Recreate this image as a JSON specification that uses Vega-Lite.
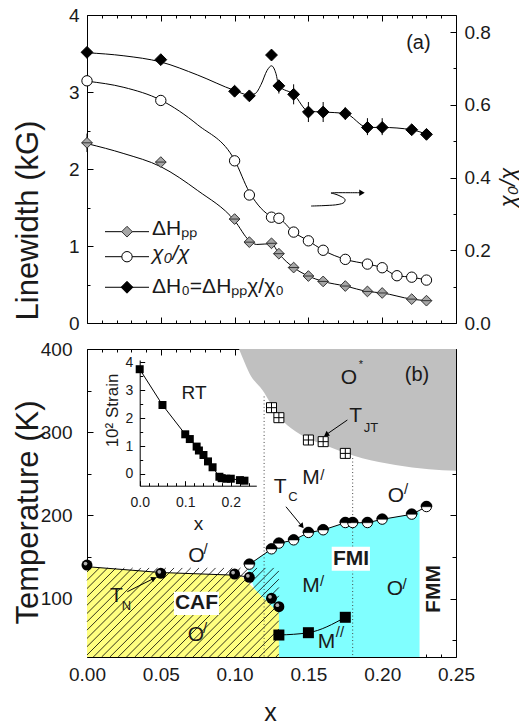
{
"$schema": "https://vega.github.io/schema/vega-lite/v6.json",
"background": "white",
"padding": {"left": 11, "top": 5, "right": 2, "bottom": 2},
"config": {
 "font": "Liberation Sans",
 "view": {"stroke": "black", "strokeWidth": 1},
 "axis": {"grid": false, "domainColor": "black", "domainWidth": 1, "tickColor": "black", "tickWidth": 1, "tickOpacity": 1, "labelFont": "Liberation Sans", "labelFontSize": 19, "labelColor": "#1a1a1a", "titleFont": "Liberation Sans", "titleFontWeight": "normal", "titleColor": "#1a1a1a", "labelFlush": false, "labelOverlap": false, "labelBound": false},
 "text": {"font": "Liberation Sans", "color": "#1a1a1a"}
},
"datasets": {
 "dHpp": [{"x":0,"kG":2.34},{"x":0.05,"kG":2.09},{"x":0.10,"kG":1.35},{"x":0.11,"kG":1.05},{"x":0.125,"kG":1.035},{"x":0.13,"kG":0.90},{"x":0.14,"kG":0.72},{"x":0.15,"kG":0.61},{"x":0.16,"kG":0.54},{"x":0.175,"kG":0.48},{"x":0.19,"kG":0.41},{"x":0.2,"kG":0.39},{"x":0.22,"kG":0.31},{"x":0.23,"kG":0.29}],
 "dH0": [{"x":0,"kG":3.515},{"x":0.05,"kG":3.42},{"x":0.10,"kG":3.01},{"x":0.11,"kG":2.95},{"x":0.125,"kG":3.48},{"x":0.13,"kG":3.08},{"x":0.14,"kG":2.97},{"x":0.15,"kG":2.74},{"x":0.16,"kG":2.74},{"x":0.175,"kG":2.72},{"x":0.19,"kG":2.54},{"x":0.2,"kG":2.54},{"x":0.22,"kG":2.51},{"x":0.23,"kG":2.45}],
 "err": [{"x":0,"lo":2.22,"hi":2.46},{"x":0.13,"lo":2.98,"hi":3.16},{"x":0.14,"lo":2.84,"hi":3.1},{"x":0.15,"lo":2.61,"hi":2.87},{"x":0.16,"lo":2.61,"hi":2.87},{"x":0.175,"lo":2.64,"hi":2.8},{"x":0.19,"lo":2.44,"hi":2.66},{"x":0.2,"lo":2.44,"hi":2.66},{"x":0.22,"lo":2.46,"hi":2.56}],
 "chi": [{"x":0,"chi":0.666},{"x":0.05,"chi":0.612},{"x":0.10,"chi":0.446},{"x":0.11,"chi":0.352},{"x":0.125,"chi":0.291},{"x":0.13,"chi":0.288},{"x":0.14,"chi":0.25},{"x":0.15,"chi":0.226},{"x":0.16,"chi":0.2},{"x":0.175,"chi":0.175},{"x":0.19,"chi":0.162},{"x":0.2,"chi":0.152},{"x":0.21,"chi":0.13},{"x":0.22,"chi":0.126},{"x":0.23,"chi":0.118}],
 "fitkg": [
  {"s":"pp","x":0,"kG":2.33},{"s":"pp","x":0.025,"kG":2.2},{"s":"pp","x":0.05,"kG":2.03},{"s":"pp","x":0.075,"kG":1.72},{"s":"pp","x":0.10,"kG":1.33},{"s":"pp","x":0.11,"kG":1.07},{"s":"pp","x":0.115,"kG":1.02},{"s":"pp","x":0.125,"kG":1.03},{"s":"pp","x":0.13,"kG":0.9},{"s":"pp","x":0.14,"kG":0.72},{"s":"pp","x":0.15,"kG":0.61},{"s":"pp","x":0.16,"kG":0.54},{"s":"pp","x":0.175,"kG":0.48},{"s":"pp","x":0.19,"kG":0.41},{"s":"pp","x":0.2,"kG":0.39},{"s":"pp","x":0.22,"kG":0.31},{"s":"pp","x":0.23,"kG":0.29},
  {"s":"h0","x":0,"kG":3.51},{"s":"h0","x":0.025,"kG":3.47},{"s":"h0","x":0.05,"kG":3.39},{"s":"h0","x":0.075,"kG":3.22},{"s":"h0","x":0.10,"kG":3.02},{"s":"h0","x":0.11,"kG":2.96},{"s":"h0","x":0.114,"kG":2.98},{"s":"h0","x":0.118,"kG":3.1},{"s":"h0","x":0.122,"kG":3.28},{"s":"h0","x":0.125,"kG":3.34},{"s":"h0","x":0.128,"kG":3.24},{"s":"h0","x":0.13,"kG":3.08},{"s":"h0","x":0.14,"kG":2.97},{"s":"h0","x":0.15,"kG":2.75},{"s":"h0","x":0.16,"kG":2.74},{"s":"h0","x":0.175,"kG":2.72},{"s":"h0","x":0.19,"kG":2.54},{"s":"h0","x":0.2,"kG":2.54},{"s":"h0","x":0.22,"kG":2.51},{"s":"h0","x":0.23,"kG":2.45}],
 "fitchi": [{"x":0,"chi":0.665},{"x":0.025,"chi":0.648},{"x":0.05,"chi":0.613},{"x":0.075,"chi":0.545},{"x":0.10,"chi":0.448},{"x":0.11,"chi":0.36},{"x":0.118,"chi":0.315},{"x":0.125,"chi":0.293},{"x":0.13,"chi":0.288},{"x":0.14,"chi":0.25},{"x":0.15,"chi":0.226},{"x":0.16,"chi":0.2},{"x":0.175,"chi":0.175},{"x":0.19,"chi":0.162},{"x":0.2,"chi":0.152},{"x":0.21,"chi":0.13},{"x":0.22,"chi":0.126},{"x":0.23,"chi":0.118}],
 "squig": [{"i":1,"x":0.1518,"kG":1.519},{"i":2,"x":0.1619,"kG":1.526},{"i":3,"x":0.1701,"kG":1.539},{"i":4,"x":0.1741,"kG":1.565},{"i":5,"x":0.1748,"kG":1.604},{"i":6,"x":0.1721,"kG":1.643},{"i":7,"x":0.168,"kG":1.675},{"i":8,"x":0.1653,"kG":1.688},{"i":9,"x":0.1687,"kG":1.692},{"i":10,"x":0.1775,"kG":1.692},{"i":11,"x":0.185,"kG":1.692}],
 "gray": [{"x":0.103,"T":400},{"x":0.106,"T":387},{"x":0.11,"T":371},{"x":0.1188,"T":350.7},{"x":0.13,"T":319},{"x":0.1414,"T":301},{"x":0.152,"T":291},{"x":0.164,"T":282.6},{"x":0.1865,"T":268.7},{"x":0.209,"T":260.6},{"x":0.2317,"T":255.5},{"x":0.25,"T":253.8}],
 "cyan": [{"x":0.108,"top":139,"bot":139},{"x":0.11,"top":141.3,"bot":129},{"x":0.125,"top":159.7,"bot":54.8},{"x":0.13,"top":166.6,"bot":30},{"x":0.14,"top":170.5,"bot":30},{"x":0.15,"top":179.4,"bot":30},{"x":0.16,"top":182.6,"bot":30},{"x":0.175,"top":191.3,"bot":30},{"x":0.19,"top":191.3,"bot":30},{"x":0.2,"top":195.4,"bot":30},{"x":0.22,"top":201.4,"bot":30},{"x":0.2253,"top":205,"bot":30}],
 "yellow": [{"x":0,"T":138.5},{"x":0.05,"T":131.5},{"x":0.10,"T":128.3},{"x":0.105,"T":126.5},{"x":0.13,"T":82.5}],
 "tnline": [{"x":0,"T":138.5},{"x":0.05,"T":131.5},{"x":0.10,"T":128.3},{"x":0.11,"T":126}],
 "hatch": [
  {"x":0,"T":132.1,"x2":0.0028,"T2":137},{"x":0,"T":122.1,"x2":0.0084,"T2":137},{"x":0,"T":112.2,"x2":0.014,"T2":137},{"x":0,"T":102.2,"x2":0.0197,"T2":137},{"x":0,"T":92.2,"x2":0.0253,"T2":137},{"x":0,"T":82.3,"x2":0.0309,"T2":137},{"x":0,"T":72.3,"x2":0.0365,"T2":137},{"x":0,"T":62.3,"x2":0.0421,"T2":137},{"x":0,"T":52.3,"x2":0.0478,"T2":137},{"x":0,"T":42.4,"x2":0.0534,"T2":137},{"x":0,"T":32.4,"x2":0.059,"T2":137},
  {"x":0.0043,"T":30,"x2":0.0646,"T2":137},{"x":0.0099,"T":30,"x2":0.0703,"T2":137},{"x":0.0155,"T":30,"x2":0.0759,"T2":137},{"x":0.0211,"T":30,"x2":0.0815,"T2":137},{"x":0.0268,"T":30,"x2":0.0871,"T2":137},{"x":0.0324,"T":30,"x2":0.0928,"T2":137},{"x":0.038,"T":30,"x2":0.0984,"T2":137},{"x":0.0436,"T":30,"x2":0.104,"T2":137},{"x":0.0493,"T":30,"x2":0.1096,"T2":137},{"x":0.0549,"T":30,"x2":0.1152,"T2":137},{"x":0.0605,"T":30,"x2":0.1209,"T2":137},{"x":0.0661,"T":30,"x2":0.1265,"T2":137},
  {"x":0.0718,"T":30,"x2":0.13,"T2":133.4},{"x":0.0774,"T":30,"x2":0.13,"T2":123.5},{"x":0.083,"T":30,"x2":0.13,"T2":113.5},{"x":0.0886,"T":30,"x2":0.13,"T2":103.5},{"x":0.0942,"T":30,"x2":0.13,"T2":93.5},{"x":0.0999,"T":30,"x2":0.13,"T2":83.6},{"x":0.1055,"T":30,"x2":0.13,"T2":73.6},{"x":0.1111,"T":30,"x2":0.13,"T2":63.6},{"x":0.1167,"T":30,"x2":0.13,"T2":53.7},{"x":0.1224,"T":30,"x2":0.13,"T2":43.7},{"x":0.128,"T":30,"x2":0.13,"T2":33.7}],
 "dots": [{"x":0.12,"T":343},{"x":0.18,"T":269}],
 "tc": [{"x":0.11,"T":141.3},{"x":0.125,"T":159.7},{"x":0.13,"T":166.6},{"x":0.14,"T":170.5},{"x":0.15,"T":179.4},{"x":0.16,"T":182.6},{"x":0.175,"T":191.3},{"x":0.18,"T":191.3},{"x":0.19,"T":191.3},{"x":0.2,"T":195.4},{"x":0.22,"T":201.4},{"x":0.23,"T":210.5}],
 "tn": [{"x":0,"T":140.5},{"x":0.05,"T":130.5},{"x":0.10,"T":129.7},{"x":0.11,"T":125.7},{"x":0.125,"T":100.5},{"x":0.13,"T":90.4}],
 "jt": [{"x":0.125,"T":329.5},{"x":0.13,"T":317.5},{"x":0.15,"T":290.7},{"x":0.16,"T":288.7},{"x":0.175,"T":274.6}],
 "m2": [{"x":0.13,"T":56.4},{"x":0.15,"T":59.2},{"x":0.175,"T":77.7}],
 "strain": [{"x":0,"s":3.75},{"x":0.05,"s":2.47},{"x":0.10,"s":1.42},{"x":0.11,"s":1.25},{"x":0.125,"s":0.98},{"x":0.13,"s":0.84},{"x":0.14,"s":0.68},{"x":0.15,"s":0.45},{"x":0.16,"s":0.24},{"x":0.175,"s":-0.1},{"x":0.18,"s":-0.15},{"x":0.19,"s":-0.17},{"x":0.2,"s":-0.17},{"x":0.22,"s":-0.22},{"x":0.23,"s":-0.24}]
},
"spacing": 26,
"bounds": "flush",
"vconcat": [
 {
  "width": 369, "height": 308,
  "resolve": {"scale": {"y": "independent"}, "axis": {"x": "independent", "y": "independent"}},
  "layer": [
   {"layer": [
    {"data": {"name": "fitkg"}, "mark": {"type": "line", "interpolate": "monotone", "color": "black", "strokeWidth": 1},
     "encoding": {
      "x": {"field": "x", "type": "quantitative", "scale": {"domain": [0, 0.25], "nice": false},
            "axis": {"orient": "bottom", "offset": -6, "domain": false, "values": [0,0.05,0.1,0.15,0.2,0.25], "labels": false, "title": null, "tickSize": 6}},
      "y": {"field": "kG", "type": "quantitative", "scale": {"domain": [0, 4], "nice": false, "zero": false},
            "axis": {"orient": "left", "offset": -6, "domain": false, "values": [0,1,2,3,4], "format": "d", "tickSize": 6, "labelPadding": 8,
                     "title": "Linewidth (kG)", "titleFontSize": 31, "titleX": -56, "titleY": 205, "titleBaseline": "alphabetic", "titleAngle": -90, "titleAlign": "center"}},
      "detail": {"field": "s", "type": "nominal"}}},
    {"data": {"name": "err"}, "mark": {"type": "rule", "color": "black", "strokeWidth": 1},
     "encoding": {"x": {"field": "x", "type": "quantitative"}, "y": {"field": "lo", "type": "quantitative"}, "y2": {"field": "hi"}}},
    {"data": {"name": "dHpp"}, "mark": {"type": "point", "shape": "M0,-1L1,0L0,1L-1,0ZM-1,0H1", "filled": true, "fill": "#a6a6a6", "stroke": "#333333", "strokeWidth": 1, "size": 115, "opacity": 1},
     "encoding": {"x": {"field": "x", "type": "quantitative"}, "y": {"field": "kG", "type": "quantitative"}}},
    {"data": {"name": "dH0"}, "mark": {"type": "point", "shape": "diamond", "filled": true, "fill": "black", "stroke": "black", "strokeWidth": 1, "size": 140, "opacity": 1},
     "encoding": {"x": {"field": "x", "type": "quantitative"}, "y": {"field": "kG", "type": "quantitative"}}},
    {"data": {"values": [{}]}, "mark": {"type": "rule", "color": "black", "strokeWidth": 1},
     "encoding": {"x": {"datum": 0.0122, "type": "quantitative"}, "x2": {"datum": 0.042}, "y": {"datum": 1.186, "type": "quantitative"}}},
    {"data": {"values": [{}]}, "mark": {"type": "rule", "color": "black", "strokeWidth": 1},
     "encoding": {"x": {"datum": 0.0122, "type": "quantitative"}, "x2": {"datum": 0.042}, "y": {"datum": 0.861, "type": "quantitative"}}},
    {"data": {"values": [{}]}, "mark": {"type": "rule", "color": "black", "strokeWidth": 1},
     "encoding": {"x": {"datum": 0.0122, "type": "quantitative"}, "x2": {"datum": 0.042}, "y": {"datum": 0.464, "type": "quantitative"}}},
    {"data": {"values": [{}]}, "mark": {"type": "point", "shape": "diamond", "filled": true, "fill": "#a6a6a6", "stroke": "#333333", "strokeWidth": 1, "size": 115, "opacity": 1},
     "encoding": {"x": {"datum": 0.0271, "type": "quantitative"}, "y": {"datum": 1.186, "type": "quantitative"}}},
    {"data": {"values": [{}]}, "mark": {"type": "point", "shape": "circle", "filled": true, "fill": "white", "stroke": "black", "strokeWidth": 1, "size": 107, "opacity": 1},
     "encoding": {"x": {"datum": 0.0271, "type": "quantitative"}, "y": {"datum": 0.861, "type": "quantitative"}}},
    {"data": {"values": [{}]}, "mark": {"type": "point", "shape": "diamond", "filled": true, "fill": "black", "stroke": "black", "strokeWidth": 1, "size": 140, "opacity": 1},
     "encoding": {"x": {"datum": 0.0271, "type": "quantitative"}, "y": {"datum": 0.464, "type": "quantitative"}}},
    {"data": {"values": [{}]}, "mark": {"type": "text", "text": "ΔHₚₚ", "fontSize": 21, "align": "left", "baseline": "alphabetic"},
     "encoding": {"x": {"datum": 0.044, "type": "quantitative"}, "y": {"datum": 1.143, "type": "quantitative"}}},
    {"data": {"values": [{}]}, "mark": {"type": "text", "text": "χ₀/χ", "fontSize": 21, "fontStyle": "italic", "align": "left", "baseline": "alphabetic"},
     "encoding": {"x": {"datum": 0.044, "type": "quantitative"}, "y": {"datum": 0.818, "type": "quantitative"}}},
    {"data": {"values": [{}]}, "mark": {"type": "text", "text": "ΔH₀=ΔHₚₚχ/χ₀", "fontSize": 21, "align": "left", "baseline": "alphabetic"},
     "encoding": {"x": {"datum": 0.044, "type": "quantitative"}, "y": {"datum": 0.39, "type": "quantitative"}}},
    {"data": {"values": [{}]}, "mark": {"type": "text", "text": "(a)", "fontSize": 20, "align": "center", "baseline": "middle"},
     "encoding": {"x": {"datum": 0.2245, "type": "quantitative"}, "y": {"datum": 3.633, "type": "quantitative"}}},
    {"data": {"name": "squig"}, "mark": {"type": "line", "interpolate": "catmull-rom", "color": "black", "strokeWidth": 1},
     "encoding": {"x": {"field": "x", "type": "quantitative"}, "y": {"field": "kG", "type": "quantitative"}, "order": {"field": "i", "type": "quantitative"}}},
    {"data": {"values": [{}]}, "mark": {"type": "point", "shape": "triangle-right", "filled": true, "color": "black", "size": 40, "opacity": 1},
     "encoding": {"x": {"datum": 0.1863, "type": "quantitative"}, "y": {"datum": 1.692, "type": "quantitative"}}}
   ]},
   {"layer": [
    {"data": {"name": "fitchi"}, "mark": {"type": "line", "interpolate": "monotone", "color": "black", "strokeWidth": 1},
     "encoding": {
      "x": {"field": "x", "type": "quantitative", "scale": {"domain": [0, 0.25], "nice": false},
            "axis": {"orient": "top", "offset": -6, "domain": false, "values": [0,0.05,0.1,0.15,0.2,0.25], "labels": false, "title": null, "tickSize": 6}},
      "y": {"field": "chi", "type": "quantitative", "scale": {"domain": [0, 0.847], "nice": false, "zero": false},
            "axis": {"orient": "right", "offset": -6, "domain": false, "values": [0,0.2,0.4,0.6,0.8], "format": ".1f", "tickSize": 6, "labelPadding": 8,
                     "title": "χ₀/χ", "titleFontSize": 22, "titleFontStyle": "italic", "titleX": 64, "titleY": 172, "titleBaseline": "alphabetic", "titleAngle": -90, "titleAlign": "center"}}}},
    {"data": {"name": "chi"}, "mark": {"type": "point", "shape": "circle", "filled": true, "fill": "white", "stroke": "black", "strokeWidth": 1, "size": 107, "opacity": 1},
     "encoding": {"x": {"field": "x", "type": "quantitative"}, "y": {"field": "chi", "type": "quantitative"}}}
   ]},
   {"layer": [
    {"data": {"name": "dHpp"}, "mark": {"type": "point", "opacity": 0},
     "encoding": {
      "x": {"field": "x", "type": "quantitative", "scale": {"domain": [0, 0.25], "nice": false},
            "axis": {"orient": "bottom", "offset": -3, "domain": false, "values": [0.01,0.02,0.03,0.04,0.06,0.07,0.08,0.09,0.11,0.12,0.13,0.14,0.16,0.17,0.18,0.19,0.21,0.22,0.23,0.24], "labels": false, "title": null, "tickSize": 3}},
      "y": {"field": "kG", "type": "quantitative", "scale": {"domain": [0, 4], "nice": false, "zero": false},
            "axis": {"orient": "left", "offset": -3, "domain": false, "values": [0.5,1.5,2.5,3.5], "labels": false, "title": null, "tickSize": 3}}}}
   ]},
   {"layer": [
    {"data": {"name": "chi"}, "mark": {"type": "point", "opacity": 0},
     "encoding": {
      "x": {"field": "x", "type": "quantitative", "scale": {"domain": [0, 0.25], "nice": false},
            "axis": {"orient": "top", "offset": -3, "domain": false, "values": [0.01,0.02,0.03,0.04,0.06,0.07,0.08,0.09,0.11,0.12,0.13,0.14,0.16,0.17,0.18,0.19,0.21,0.22,0.23,0.24], "labels": false, "title": null, "tickSize": 3}},
      "y": {"field": "chi", "type": "quantitative", "scale": {"domain": [0, 0.847], "nice": false, "zero": false},
            "axis": {"orient": "right", "offset": -3, "domain": false, "values": [0.1,0.3,0.5,0.7], "labels": false, "title": null, "tickSize": 3}}}}
   ]}
  ]
 },
 {
  "width": 369, "height": 308,
  "resolve": {"scale": {"x": "independent", "y": "independent"}, "axis": {"x": "independent", "y": "independent"}},
  "layer": [
   {"layer": [
    {"data": {"name": "gray"}, "mark": {"type": "area", "color": "#c0c0c0", "interpolate": "monotone", "opacity": 1},
     "encoding": {
      "x": {"field": "x", "type": "quantitative", "scale": {"domain": [0, 0.25], "nice": false},
            "axis": {"orient": "bottom", "offset": -6, "domain": false, "values": [0,0.05,0.1,0.15,0.2,0.25], "format": ".2f", "tickSize": 6, "labelPadding": 8,
                     "title": "x", "titleFontSize": 25, "titleX": 183, "titleY": 69, "titleBaseline": "alphabetic", "titleAlign": "center"}},
      "y": {"field": "T", "type": "quantitative", "scale": {"domain": [30, 400], "nice": false, "zero": false},
            "axis": {"orient": "left", "offset": -6, "domain": false, "values": [100,200,300,400], "format": "d", "tickSize": 6, "labelPadding": 15,
                     "title": "Temperature (K)", "titleFontSize": 31, "titleX": -56, "titleY": 163, "titleBaseline": "alphabetic", "titleAngle": -90, "titleAlign": "center"}},
      "y2": {"datum": 400}}},
    {"data": {"name": "cyan"}, "mark": {"type": "area", "color": "#80ffff", "opacity": 1},
     "encoding": {"x": {"field": "x", "type": "quantitative"}, "y": {"field": "top", "type": "quantitative"}, "y2": {"field": "bot"}}},
    {"data": {"name": "yellow"}, "mark": {"type": "area", "color": "#ffff80", "opacity": 1},
     "encoding": {"x": {"field": "x", "type": "quantitative"}, "y": {"field": "T", "type": "quantitative"}, "y2": {"datum": 30}}},
    {"data": {"name": "hatch"}, "mark": {"type": "rule", "color": "black", "strokeWidth": 0.8},
     "encoding": {"x": {"field": "x", "type": "quantitative"}, "y": {"field": "T", "type": "quantitative"}, "x2": {"field": "x2"}, "y2": {"field": "T2"}}},
    {"data": {"name": "tnline"}, "mark": {"type": "line", "color": "black", "strokeWidth": 1},
     "encoding": {"x": {"field": "x", "type": "quantitative"}, "y": {"field": "T", "type": "quantitative"}}},
    {"data": {"name": "dots"}, "mark": {"type": "rule", "color": "#444444", "strokeWidth": 1, "strokeDash": [1, 2.5]},
     "encoding": {"x": {"field": "x", "type": "quantitative"}, "y": {"field": "T", "type": "quantitative"}, "y2": {"datum": 30}}},
    {"data": {"name": "tc"}, "mark": {"type": "line", "color": "black", "strokeWidth": 1},
     "encoding": {"x": {"field": "x", "type": "quantitative"}, "y": {"field": "T", "type": "quantitative"}}},
    {"data": {"name": "m2"}, "mark": {"type": "line", "color": "black", "strokeWidth": 1, "interpolate": "monotone"},
     "encoding": {"x": {"field": "x", "type": "quantitative"}, "y": {"field": "T", "type": "quantitative"}}},
    {"data": {"name": "tn"}, "mark": {"type": "point", "shape": "circle", "filled": true, "color": "black", "size": 120, "opacity": 1},
     "encoding": {"x": {"field": "x", "type": "quantitative"}, "y": {"field": "T", "type": "quantitative"}}},
    {"data": {"name": "tn"}, "mark": {"type": "point", "shape": "circle", "filled": true, "color": "#b0b0b0", "size": 14, "opacity": 1, "xOffset": -1.5, "yOffset": -1.5},
     "encoding": {"x": {"field": "x", "type": "quantitative"}, "y": {"field": "T", "type": "quantitative"}}},
    {"data": {"name": "tc"}, "mark": {"type": "point", "shape": "circle", "filled": true, "fill": "white", "stroke": "black", "strokeWidth": 1, "size": 100, "opacity": 1},
     "encoding": {"x": {"field": "x", "type": "quantitative"}, "y": {"field": "T", "type": "quantitative"}}},
    {"data": {"name": "tc"}, "mark": {"type": "point", "shape": "M-1,0A1,1 0 0 1 1,0Z", "filled": true, "fill": "black", "stroke": "black", "strokeWidth": 0.5, "size": 127, "opacity": 1},
     "encoding": {"x": {"field": "x", "type": "quantitative"}, "y": {"field": "T", "type": "quantitative"}}},
    {"data": {"name": "jt"}, "mark": {"type": "point", "shape": "M-1,-1H1V1H-1ZM0,-1V1M-1,0H1", "filled": true, "fill": "white", "stroke": "black", "strokeWidth": 1, "size": 100, "opacity": 1},
     "encoding": {"x": {"field": "x", "type": "quantitative"}, "y": {"field": "T", "type": "quantitative"}}},
    {"data": {"name": "m2"}, "mark": {"type": "point", "shape": "square", "filled": true, "color": "black", "size": 121, "opacity": 1},
     "encoding": {"x": {"field": "x", "type": "quantitative"}, "y": {"field": "T", "type": "quantitative"}}},
    {"data": {"values": [{}]}, "mark": {"type": "rule", "color": "black", "strokeWidth": 1},
     "encoding": {"x": {"datum": 0.1764, "type": "quantitative"}, "y": {"datum": 314.7, "type": "quantitative"}, "x2": {"datum": 0.1617}, "y2": {"datum": 296.7}}},
    {"data": {"values": [{}]}, "mark": {"type": "point", "shape": "triangle", "filled": true, "color": "black", "size": 35, "angle": 236, "opacity": 1},
     "encoding": {"x": {"datum": 0.1625, "type": "quantitative"}, "y": {"datum": 297.6, "type": "quantitative"}}},
    {"data": {"values": [{}]}, "mark": {"type": "rule", "color": "black", "strokeWidth": 1},
     "encoding": {"x": {"datum": 0.1348, "type": "quantitative"}, "y": {"datum": 210.5, "type": "quantitative"}, "x2": {"datum": 0.1457}, "y2": {"datum": 187}}},
    {"data": {"values": [{}]}, "mark": {"type": "point", "shape": "triangle", "filled": true, "color": "black", "size": 35, "angle": 141, "opacity": 1},
     "encoding": {"x": {"datum": 0.1453, "type": "quantitative"}, "y": {"datum": 188, "type": "quantitative"}}},
    {"data": {"values": [{}]}, "mark": {"type": "rule", "color": "black", "strokeWidth": 1},
     "encoding": {"x": {"datum": 0.0273, "type": "quantitative"}, "y": {"datum": 108.4, "type": "quantitative"}, "x2": {"datum": 0.0454}, "y2": {"datum": 124.5}}},
    {"data": {"values": [{}]}, "mark": {"type": "point", "shape": "triangle", "filled": true, "color": "black", "size": 35, "angle": 63, "opacity": 1},
     "encoding": {"x": {"datum": 0.0448, "type": "quantitative"}, "y": {"datum": 123.8, "type": "quantitative"}}},
    {"data": {"values": [{}]}, "mark": {"type": "rect", "color": "white", "opacity": 1},
     "encoding": {"x": {"datum": 0.0589, "type": "quantitative"}, "x2": {"datum": 0.0894}, "y": {"datum": 80.4, "type": "quantitative"}, "y2": {"datum": 108.4}}},
    {"data": {"values": [{}]}, "mark": {"type": "rect", "color": "white", "opacity": 1},
     "encoding": {"x": {"datum": 0.1658, "type": "quantitative"}, "x2": {"datum": 0.1917}, "y": {"datum": 133.7, "type": "quantitative"}, "y2": {"datum": 162.5}}},
    {"data": {"values": [{}]}, "mark": {"type": "text", "text": "CAF", "fontSize": 21, "fontWeight": "bold", "align": "center", "baseline": "middle"},
     "encoding": {"x": {"datum": 0.0742, "type": "quantitative"}, "y": {"datum": 94.9, "type": "quantitative"}}},
    {"data": {"values": [{}]}, "mark": {"type": "text", "text": "FMI", "fontSize": 21, "fontWeight": "bold", "align": "center", "baseline": "middle"},
     "encoding": {"x": {"datum": 0.1789, "type": "quantitative"}, "y": {"datum": 148.1, "type": "quantitative"}}},
    {"data": {"values": [{}]}, "mark": {"type": "text", "text": "FMM", "fontSize": 21, "fontWeight": "bold", "align": "center", "baseline": "middle", "angle": 270},
     "encoding": {"x": {"datum": 0.2351, "type": "quantitative"}, "y": {"datum": 111.7, "type": "quantitative"}}},
    {"data": {"values": [{}]}, "mark": {"type": "text", "text": "(b)", "fontSize": 20, "align": "center", "baseline": "middle"},
     "encoding": {"x": {"datum": 0.2236, "type": "quantitative"}, "y": {"datum": 368.8, "type": "quantitative"}}},
    {"data": {"values": [{}]}, "mark": {"type": "text", "text": "O", "fontSize": 21, "align": "center", "baseline": "middle"},
     "encoding": {"x": {"datum": 0.1775, "type": "quantitative"}, "y": {"datum": 365.2, "type": "quantitative"}}},
    {"data": {"values": [{}]}, "mark": {"type": "text", "text": "*", "fontSize": 11, "align": "center", "baseline": "middle"},
     "encoding": {"x": {"datum": 0.1856, "type": "quantitative"}, "y": {"datum": 380.8, "type": "quantitative"}}},
    {"data": {"values": [{}]}, "mark": {"type": "text", "text": "T", "fontSize": 21, "align": "center", "baseline": "middle"},
     "encoding": {"x": {"datum": 0.182, "type": "quantitative"}, "y": {"datum": 320.1, "type": "quantitative"}}},
    {"data": {"values": [{}]}, "mark": {"type": "text", "text": "JT", "fontSize": 13, "align": "center", "baseline": "middle"},
     "encoding": {"x": {"datum": 0.1924, "type": "quantitative"}, "y": {"datum": 305.1, "type": "quantitative"}}},
    {"data": {"values": [{}]}, "mark": {"type": "text", "text": "M", "fontSize": 21, "align": "center", "baseline": "middle"},
     "encoding": {"x": {"datum": 0.1518, "type": "quantitative"}, "y": {"datum": 245.0, "type": "quantitative"}}},
    {"data": {"values": [{}]}, "mark": {"type": "text", "text": "/", "fontSize": 15, "align": "center", "baseline": "middle"},
     "encoding": {"x": {"datum": 0.1595, "type": "quantitative"}, "y": {"datum": 249.0, "type": "quantitative"}}},
    {"data": {"values": [{}]}, "mark": {"type": "text", "text": "T", "fontSize": 21, "align": "center", "baseline": "middle"},
     "encoding": {"x": {"datum": 0.1308, "type": "quantitative"}, "y": {"datum": 234.2, "type": "quantitative"}}},
    {"data": {"values": [{}]}, "mark": {"type": "text", "text": "C", "fontSize": 13, "align": "center", "baseline": "middle"},
     "encoding": {"x": {"datum": 0.1396, "type": "quantitative"}, "y": {"datum": 222.2, "type": "quantitative"}}},
    {"data": {"values": [{}]}, "mark": {"type": "text", "text": "O", "fontSize": 21, "align": "center", "baseline": "middle"},
     "encoding": {"x": {"datum": 0.2093, "type": "quantitative"}, "y": {"datum": 223.4, "type": "quantitative"}}},
    {"data": {"values": [{}]}, "mark": {"type": "text", "text": "/", "fontSize": 15, "align": "center", "baseline": "middle"},
     "encoding": {"x": {"datum": 0.2161, "type": "quantitative"}, "y": {"datum": 231.8, "type": "quantitative"}}},
    {"data": {"values": [{}]}, "mark": {"type": "text", "text": "O", "fontSize": 21, "align": "center", "baseline": "middle"},
     "encoding": {"x": {"datum": 0.0742, "type": "quantitative"}, "y": {"datum": 151.3, "type": "quantitative"}}},
    {"data": {"values": [{}]}, "mark": {"type": "text", "text": "/", "fontSize": 15, "align": "center", "baseline": "middle"},
     "encoding": {"x": {"datum": 0.0803, "type": "quantitative"}, "y": {"datum": 159.7, "type": "quantitative"}}},
    {"data": {"values": [{}]}, "mark": {"type": "text", "text": "T", "fontSize": 21, "align": "center", "baseline": "middle"},
     "encoding": {"x": {"datum": 0.02, "type": "quantitative"}, "y": {"datum": 103.3, "type": "quantitative"}}},
    {"data": {"values": [{}]}, "mark": {"type": "text", "text": "N", "fontSize": 13, "align": "center", "baseline": "middle"},
     "encoding": {"x": {"datum": 0.0268, "type": "quantitative"}, "y": {"datum": 91.3, "type": "quantitative"}}},
    {"data": {"values": [{}]}, "mark": {"type": "text", "text": "O", "fontSize": 21, "align": "center", "baseline": "middle"},
     "encoding": {"x": {"datum": 0.0738, "type": "quantitative"}, "y": {"datum": 56.4, "type": "quantitative"}}},
    {"data": {"values": [{}]}, "mark": {"type": "text", "text": "/", "fontSize": 15, "align": "center", "baseline": "middle"},
     "encoding": {"x": {"datum": 0.08, "type": "quantitative"}, "y": {"datum": 64.8, "type": "quantitative"}}},
    {"data": {"values": [{}]}, "mark": {"type": "text", "text": "M", "fontSize": 21, "align": "center", "baseline": "middle"},
     "encoding": {"x": {"datum": 0.1518, "type": "quantitative"}, "y": {"datum": 115.3, "type": "quantitative"}}},
    {"data": {"values": [{}]}, "mark": {"type": "text", "text": "/", "fontSize": 15, "align": "center", "baseline": "middle"},
     "encoding": {"x": {"datum": 0.1592, "type": "quantitative"}, "y": {"datum": 121.3, "type": "quantitative"}}},
    {"data": {"values": [{}]}, "mark": {"type": "text", "text": "O", "fontSize": 21, "align": "center", "baseline": "middle"},
     "encoding": {"x": {"datum": 0.2087, "type": "quantitative"}, "y": {"datum": 111.7, "type": "quantitative"}}},
    {"data": {"values": [{}]}, "mark": {"type": "text", "text": "/", "fontSize": 15, "align": "center", "baseline": "middle"},
     "encoding": {"x": {"datum": 0.2151, "type": "quantitative"}, "y": {"datum": 117.7, "type": "quantitative"}}},
    {"data": {"values": [{}]}, "mark": {"type": "text", "text": "M", "fontSize": 21, "align": "center", "baseline": "middle"},
     "encoding": {"x": {"datum": 0.1623, "type": "quantitative"}, "y": {"datum": 48.6, "type": "quantitative"}}},
    {"data": {"values": [{}]}, "mark": {"type": "text", "text": "//", "fontSize": 15, "align": "center", "baseline": "middle"},
     "encoding": {"x": {"datum": 0.1714, "type": "quantitative"}, "y": {"datum": 60.0, "type": "quantitative"}}}
   ]},
   {"layer": [
    {"data": {"name": "tn"}, "mark": {"type": "point", "opacity": 0},
     "encoding": {
      "x": {"field": "x", "type": "quantitative", "scale": {"domain": [0, 0.25], "nice": false},
            "axis": {"orient": "top", "offset": -6, "domain": false, "values": [0,0.05,0.1,0.15,0.2,0.25], "labels": false, "title": null, "tickSize": 6}},
      "y": {"field": "T", "type": "quantitative", "scale": {"domain": [30, 400], "nice": false, "zero": false},
            "axis": {"orient": "right", "offset": -6, "domain": false, "values": [100,200,300,400], "labels": false, "title": null, "tickSize": 6}}}}
   ]},
   {"layer": [
    {"data": {"name": "tn"}, "mark": {"type": "point", "opacity": 0},
     "encoding": {
      "x": {"field": "x", "type": "quantitative", "scale": {"domain": [0, 0.25], "nice": false},
            "axis": {"orient": "bottom", "offset": -3, "domain": false, "values": [0.01,0.02,0.03,0.04,0.06,0.07,0.08,0.09,0.11,0.12,0.13,0.14,0.16,0.17,0.18,0.19,0.21,0.22,0.23,0.24], "labels": false, "title": null, "tickSize": 3}},
      "y": {"field": "T", "type": "quantitative", "scale": {"domain": [30, 400], "nice": false, "zero": false},
            "axis": {"orient": "left", "offset": -4, "domain": false, "values": [50,150,250,350], "labels": false, "title": null, "tickSize": 4}}}}
   ]},
   {"layer": [
    {"data": {"name": "tn"}, "mark": {"type": "point", "opacity": 0},
     "encoding": {
      "x": {"field": "x", "type": "quantitative", "scale": {"domain": [0, 0.25], "nice": false},
            "axis": {"orient": "top", "offset": -3, "domain": false, "values": [0.01,0.02,0.03,0.04,0.06,0.07,0.08,0.09,0.11,0.12,0.13,0.14,0.16,0.17,0.18,0.19,0.21,0.22,0.23,0.24], "labels": false, "title": null, "tickSize": 3}},
      "y": {"field": "T", "type": "quantitative", "scale": {"domain": [30, 400], "nice": false, "zero": false},
            "axis": {"orient": "right", "offset": -4, "domain": false, "values": [50,150,250,350], "labels": false, "title": null, "tickSize": 4}}}}
   ]},
   {"layer": [
    {"data": {"name": "strain"}, "mark": {"type": "point", "opacity": 0},
     "encoding": {
      "x": {"field": "x", "type": "quantitative", "scale": {"domain": [0, 0.256], "nice": false, "range": [52.7, 169.3]},
            "axis": {"orient": "bottom", "offset": -171.3, "ticks": false, "labels": false, "title": null, "domain": true}},
      "y": {"field": "s", "type": "quantitative", "scale": {"domain": [-0.42, 4.08], "nice": false, "zero": false, "range": [136.7, 11]},
            "axis": {"orient": "left", "offset": -52.7, "ticks": false, "labels": false, "title": null, "domain": true}}}}
   ]},
   {"layer": [
    {"data": {"name": "strain"}, "mark": {"type": "point", "opacity": 0},
     "encoding": {
      "x": {"field": "x", "type": "quantitative", "scale": {"domain": [0, 0.256], "nice": false, "range": [52.7, 169.3]},
            "axis": {"orient": "bottom", "offset": -174.3, "domain": false, "values": [0.02,0.04,0.06,0.08,0.12,0.14,0.16,0.18,0.22,0.24], "labels": false, "title": null, "tickSize": 3}},
      "y": {"field": "s", "type": "quantitative", "scale": {"domain": [-0.42, 4.08], "nice": false, "zero": false, "range": [136.7, 11]},
            "axis": {"orient": "left", "offset": -55.7, "domain": false, "values": [0.5,1.5,2.5,3.5], "labels": false, "title": null, "tickSize": 3}}}}
   ]},
   {"layer": [
    {"data": {"name": "strain"}, "mark": {"type": "line", "color": "black", "strokeWidth": 1},
     "encoding": {
      "x": {"field": "x", "type": "quantitative", "scale": {"domain": [0, 0.256], "nice": false, "range": [52.7, 169.3]},
            "axis": {"orient": "bottom", "offset": -176.3, "domain": false, "values": [0,0.1,0.2], "format": ".1f", "labelFontSize": 14,
                     "tickSize": 5, "labelPadding": 10,
                     "title": "x", "titleFontSize": 19, "titleX": 111, "titleY": 49, "titleBaseline": "alphabetic", "titleAlign": "center"}},
      "y": {"field": "s", "type": "quantitative", "scale": {"domain": [-0.42, 4.08], "nice": false, "zero": false, "range": [136.7, 11]},
            "axis": {"orient": "left", "offset": -57.7, "domain": false, "values": [0,1,2,3,4], "format": "d", "labelFontSize": 14,
                     "tickSize": 5, "labelPadding": 7,
                     "title": "10² Strain", "titleFontSize": 17, "titleX": -27.7, "titleY": 61, "titleBaseline": "alphabetic", "titleAngle": -90, "titleAlign": "center"}}}},
    {"data": {"name": "strain"}, "mark": {"type": "point", "shape": "square", "filled": true, "color": "black", "size": 64, "opacity": 1},
     "encoding": {"x": {"field": "x", "type": "quantitative"}, "y": {"field": "s", "type": "quantitative"}}},
    {"data": {"values": [{}]}, "mark": {"type": "text", "text": "RT", "fontSize": 19, "align": "center", "baseline": "middle"},
     "encoding": {"x": {"datum": 0.1193, "type": "quantitative"}, "y": {"datum": 2.9, "type": "quantitative"}}}
   ]}
  ]
 }
]
}
